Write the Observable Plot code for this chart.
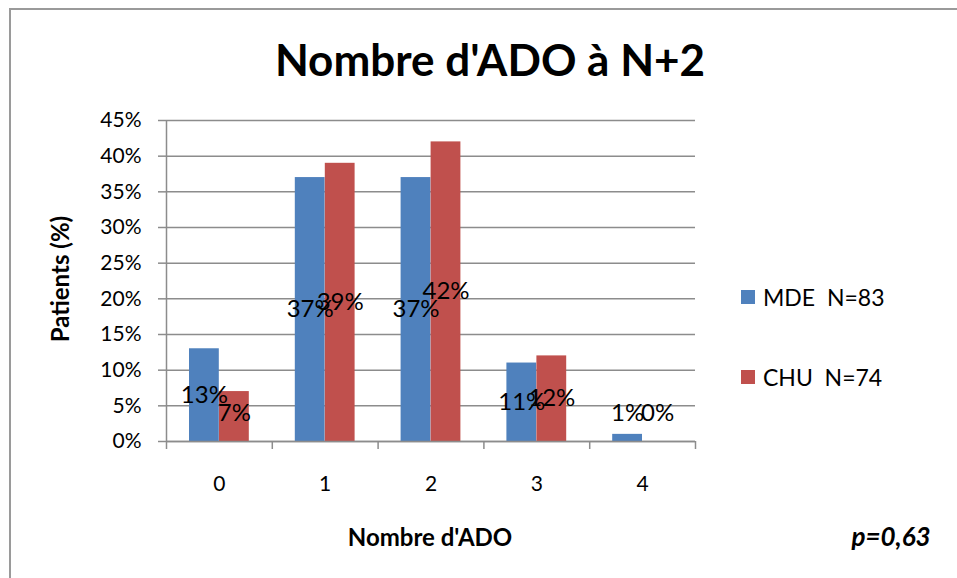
<!DOCTYPE html>
<html>
<head>
<meta charset="utf-8">
<script src="https://cdn.jsdelivr.net/npm/d3@7"></script>
<script src="https://cdn.jsdelivr.net/npm/@observablehq/plot@0.6"></script>
<style>
  html, body { margin: 0; padding: 0; background: #fff; }
  #wrap { position: relative; width: 957px; height: 578px; overflow: hidden; font-family: Lato, "Noto Sans", sans-serif; color: #000; }
  #wrap svg { position: absolute; left: 0; top: 0; }
  .frame { position: absolute; left: 9px; top: 8px; width: 960px; height: 600px; border-left: 2px solid #9a9a9a; border-top: 2px solid #9a9a9a; }
  .abs { position: absolute; white-space: pre; line-height: 1; }
  .title { left: 490px; top: 59px; transform: translate(-50%, -50%); font-weight: 700; font-size: 44px; }
  .xlabel { left: 430px; top: 537px; transform: translate(-50%, -50%); font-weight: 700; font-size: 24px; }
  .ylabel { left: 60px; top: 279px; transform: translate(-50%, -50%) rotate(-90deg); font-weight: 700; font-size: 24px; }
  .pval { left: 891px; top: 536px; transform: translate(-50%, -50%); font-weight: 700; font-style: italic; font-size: 26px; }
  .sw { position: absolute; width: 14px; height: 14px; }
  .leg { font-size: 23px; transform: translateY(-50%); }
</style>
</head>
<body>
<div id="wrap">
  <div class="frame"></div>
</div>
<script>
const categories = [0, 1, 2, 3, 4];
const tickLabels = ["0", "1", "2", "3", "4"];
const mdeValues = [13, 37, 37, 11, 1];
const chuValues = [7, 39, 42, 12, 0];
const yTicks = [0, 5, 10, 15, 20, 25, 30, 35, 40, 45];
const seriesNames = ["MDE  N=83", "CHU  N=74"];
const colors = ["#4F81BD", "#C0504D"];

const mde = categories.map((c, i) => ({cat: c, value: mdeValues[i]}));
const chu = categories.map((c, i) => ({cat: c, value: chuValues[i]}));
const bounds = [-0.5, 0.5, 1.5, 2.5, 3.5, 4.5];
const gray = "#8c8c8c";

const labelY = d => Math.max(d.value / 2, 3.9);

const chart = Plot.plot({
  width: 957,
  height: 578,
  marginLeft: 166,
  marginRight: 262,
  marginTop: 120,
  marginBottom: 137,
  style: {fontFamily: "Lato, 'Noto Sans', sans-serif", fontSize: "21px", color: "#000", background: "transparent"},
  x: {type: "linear", domain: [-0.5, 4.5]},
  y: {domain: [0, 45]},
  marks: [
    Plot.gridY(yTicks, {stroke: gray, strokeOpacity: 1, strokeWidth: 1.5}),
    Plot.axisY({ticks: yTicks, tickFormat: d => d + "%", tickSize: 8, tickPadding: 17, stroke: gray, strokeWidth: 1.5, label: null, fontSize: 21}),
    Plot.rectY(mde, {x1: d => d.cat - 0.5, x2: d => d.cat + 0.5, y1: 0, y2: "value", fill: colors[0], insetLeft: 23, insetRight: 53}),
    Plot.rectY(chu, {x1: d => d.cat - 0.5, x2: d => d.cat + 0.5, y1: 0, y2: "value", fill: colors[1], insetLeft: 53, insetRight: 23}),
    Plot.ruleY([0], {stroke: gray, strokeWidth: 1.5}),
    Plot.ruleX([-0.5], {y1: 0, y2: 45, stroke: gray, strokeWidth: 1.5}),
    Plot.axisX({ticks: bounds, tickFormat: () => "", tickSize: 8, stroke: gray, strokeWidth: 1.5, label: null}),
    Plot.axisX({ticks: categories, tickFormat: (d, i) => tickLabels[i], tickSize: 0, tickPadding: 35, label: null, fontSize: 21}),
    Plot.text(mde, {x: "cat", y: labelY, text: d => d.value + "%", dx: -15, fontSize: 24, fill: "#000"}),
    Plot.text(chu, {x: "cat", y: labelY, text: d => d.value + "%", dx: 15, fontSize: 24, fill: "#000"})
  ]
});

const wrap = document.getElementById("wrap");
wrap.appendChild(chart);

function addText(cls, txt, extra) {
  const el = document.createElement("div");
  el.className = "abs " + cls;
  el.textContent = txt;
  if (extra) Object.assign(el.style, extra);
  wrap.appendChild(el);
  return el;
}
addText("title", "Nombre d'ADO à N+2");
addText("xlabel", "Nombre d'ADO");
addText("ylabel", "Patients (%)");
addText("pval", "p=0,63");

const legendY = [297, 377];
seriesNames.forEach((name, i) => {
  const sw = document.createElement("div");
  sw.className = "sw";
  sw.style.left = "741px";
  sw.style.top = (legendY[i] - 7) + "px";
  sw.style.background = colors[i];
  wrap.appendChild(sw);
  addText("leg", name, {left: "763px", top: legendY[i] + "px"});
});
</script>
</body>
</html>
